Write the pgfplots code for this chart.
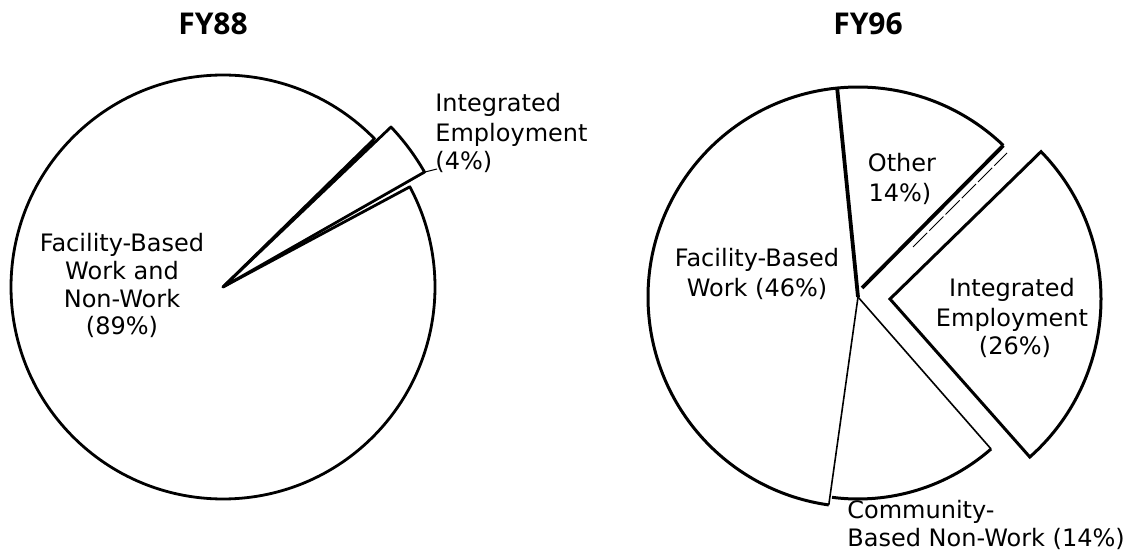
\documentclass[border=0pt]{standalone}
\usepackage{fontspec}
\setmainfont{DejaVu Sans}
\newfontfamily\titlefont{Open Sans}
\usepackage{pgfplots}
\pgfplotsset{compat=1.18}

\tikzset{
  pietitle/.style={anchor=base, inner sep=0pt, font=\titlefont\fontsize{15}{16}\selectfont\bfseries},
  lbl/.style={anchor=base, inner sep=0pt, font=\fontsize{12}{14}\selectfont},
}

% one picture pixel = 0.5pt; angles in degrees, counterclockwise
% \pieslice[style]{cx}{cy}{r}{start}{end}
\newcommand{\pieslice}[6][]{%
  \draw[#1] (axis cs:#2,#3) -- ([shift={(#5:#4*0.5pt)}]axis cs:#2,#3)
    arc[start angle=#5, end angle=#6, radius=#4*0.5pt] -- cycle;}
% \arcpart[style]{cx}{cy}{r}{start}{end}
\newcommand{\arcpart}[6][]{%
  \draw[#1] ([shift={(#5:#4*0.5pt)}]axis cs:#2,#3)
    arc[start angle=#5, end angle=#6, radius=#4*0.5pt];}
% \spoke[style]{cx}{cy}{r}{angle}
\newcommand{\spoke}[5][]{%
  \draw[#1] (axis cs:#2,#3) -- ([shift={(#5:#4*0.5pt)}]axis cs:#2,#3);}

\begin{document}
\begin{tikzpicture}
\begin{axis}[
    x=0.5pt, y=0.5pt,
    xmin=0, xmax=1124,
    ymin=0, ymax=550,
    y dir=reverse,
    hide axis,
    clip=false,
]
\path (axis cs:0,0) rectangle (axis cs:1124,550);

% ---------- FY88 ----------
% Facility-Based Work and Non-Work (89%)
\pieslice[line width=1.4pt, line join=round]{223}{287}{212}{44.4}{388.2}
% Integrated Employment (4%)
\pieslice[line width=1.4pt, line join=round]{223}{287}{232}{29.7}{43.6}
\spoke[line width=1.2pt]{223}{287}{210}{44}
\draw[line width=0.5pt] (axis cs:425,172) -- (axis cs:437,169);

\node[pietitle] at (axis cs:213,35) {FY88};
\node[lbl, anchor=base west] at (axis cs:435,112) {Integrated};
\node[lbl, anchor=base west] at (axis cs:435,142) {Employment};
\node[lbl, anchor=base west] at (axis cs:435,170) {(4\%)};
\node[lbl] at (axis cs:122,252) {Facility-Based};
\node[lbl] at (axis cs:122,280) {Work and};
\node[lbl] at (axis cs:122,308) {Non-Work};
\node[lbl] at (axis cs:122,335) {(89\%)};

% ---------- FY96 ----------
% Facility-Based Work (46%)
\arcpart[line width=1.5pt]{858}{297}{210}{95.7}{262}
\spoke[line width=1.9pt]{858}{297}{210}{95.7}
\spoke[line width=0.8pt]{858}{297}{210}{262}
% Community-Based Non-Work (14%)
\arcpart[line width=1.5pt]{858}{297}{202}{262.6}{311.2}
\spoke[line width=0.8pt]{858}{297}{202}{311.2}
% Other (14%)
\arcpart[line width=1.5pt]{858}{297}{210}{46.2}{95.7}
\draw[line width=1.9pt] (axis cs:862,288) -- ([shift={(46.2:105pt)}]axis cs:858,297);
\draw[line width=0.5pt, dash pattern=on 10pt off 1.5pt] (axis cs:913,247) -- (axis cs:1007,153);
% Integrated Employment (26%), pulled out
\pieslice[line width=1.5pt, line join=miter]{890}{299}{211}{-48.5}{44.3}

\node[pietitle] at (axis cs:868,35) {FY96};
\node[lbl] at (axis cs:902,172) {Other};
\node[lbl] at (axis cs:900,202) {14\%)};
\node[lbl] at (axis cs:757,267) {Facility-Based};
\node[lbl] at (axis cs:757,297) {Work (46\%)};
\node[lbl] at (axis cs:1012,297) {Integrated};
\node[lbl] at (axis cs:1012,327) {Employment};
\node[lbl] at (axis cs:1015,355) {(26\%)};
\node[lbl, anchor=base west] at (axis cs:847,518) {Community-};
\node[lbl, anchor=base west] at (axis cs:847,546) {Based Non-Work (14\%)};
\end{axis}
\pgfresetboundingbox
\path (current axis.south west) rectangle (current axis.north east);
\end{tikzpicture}
\end{document}
